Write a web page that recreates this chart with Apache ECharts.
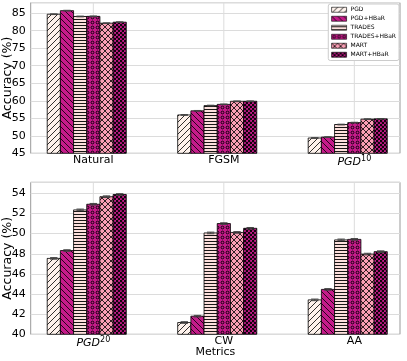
<!DOCTYPE html>
<html><head><meta charset="utf-8">
<script src="https://cdn.jsdelivr.net/npm/echarts@6/dist/echarts.min.js"></script>
<style>html,body{margin:0;padding:0;background:#fff}#c{width:407px;height:361px}</style>
</head><body><div id="c"></div>
<script>
// ---- data ----
const methods = ['PGD', 'PGD+HBaR', 'TRADES', 'TRADES+HBaR', 'MART', 'MART+HBaR'];
const topCategories = ['Natural', 'FGSM', 'PGD10'];
const bottomCategories = ['PGD20', 'CW', 'AA'];

const pgdTop        = [84.71, 55.95, 49.37];
const pgdHbarTop    = [85.73, 57.13, 49.63];
const tradesTop     = [84.07, 58.63, 53.21];
const tradesHbarTop = [84.10, 58.97, 53.76];
const martTop       = [82.15, 59.85, 54.75];
const martHbarTop   = [82.44, 59.86, 54.84];

const pgdBottom        = [47.54, 41.17, 43.42];
const pgdHbarBottom    = [48.32, 41.80, 44.46];
const tradesBottom     = [52.36, 50.07, 49.38];
const tradesHbarBottom = [52.92, 51.00, 49.43];
const martBottom       = [53.67, 50.12, 47.97];
const martHbarBottom   = [53.89, 50.53, 48.21];

const errTop    = [0.10, 0.10, 0.10];
const errBottom = [0.08, 0.08, 0.08];

const topTicks = [45, 50, 55, 60, 65, 70, 75, 80, 85];
const bottomTicks = [40, 42, 44, 46, 48, 50, 52, 54];

const topSeries = [pgdTop, pgdHbarTop, tradesTop, tradesHbarTop, martTop, martHbarTop];
const bottomSeries = [pgdBottom, pgdHbarBottom, tradesBottom, tradesHbarBottom, martBottom, martHbarBottom];

// ---- patterns ----
function makePattern(kind, bg) {
  const cv = document.createElement('canvas');
  let s = 6;
  if (kind === 'h') s = 3;
  if (kind === 'o') s = 5;
  if (kind === 'star') s = 4;
  cv.width = s; cv.height = s;
  const c = cv.getContext('2d');
  c.fillStyle = bg; c.fillRect(0, 0, s, s);
  c.strokeStyle = 'rgba(0,0,0,0.9)'; c.fillStyle = 'rgba(0,0,0,0.9)';
  c.lineWidth = 0.9;
  function diag(fw) {
    c.beginPath();
    for (let k = -1; k <= 1; k++) {
      if (fw) { c.moveTo(k * s, s); c.lineTo(k * s + s, 0); }
      else { c.moveTo(k * s, 0); c.lineTo(k * s + s, s); }
    }
    c.stroke();
  }
  if (kind === '/') diag(true);
  if (kind === '\\') diag(false);
  if (kind === 'x') { diag(true); diag(false); }
  if (kind === 'h') { c.fillRect(0, 1, s, 1); }
  if (kind === 'o') {
    c.lineWidth = 1;
    c.beginPath(); c.arc(2.5, 2.5, 1.4, 0, Math.PI * 2); c.stroke();
  }
  if (kind === 'star') {
    c.beginPath(); c.arc(1, 1, 1.3, 0, Math.PI * 2); c.fill();
    c.beginPath(); c.arc(3, 3, 1.3, 0, Math.PI * 2); c.fill();
  }
  return { image: cv, repeat: 'repeat' };
}
const patterns = [
  makePattern('/', '#fef2ec'),
  makePattern('\\', '#c51b8a'),
  makePattern('h', '#fde0dd'),
  makePattern('o', '#c51b8a'),
  makePattern('x', '#fa9fb5'),
  makePattern('star', '#c51b8a')
];

const BW = 0.101;
function barRender(j) {
  return function (params, api) {
    const ci = api.value(0), v = api.value(1), e = api.value(2);
    const cs = params.coordSys;
    const bottom = cs.y + cs.height;
    const x = ci + (j - 3) * BW;
    const pL = api.coord([x - BW / 2, v]);
    const pR = api.coord([x + BW / 2, v]);
    const pc = api.coord([x, v]);
    const up = api.coord([x, v + e]);
    const dn = api.coord([x, v - e]);
    const capW = (pR[0] - pL[0]) * 0.28;
    return {
      type: 'group',
      children: [
        { type: 'rect', shape: { x: pL[0], y: pL[1], width: pR[0] - pL[0], height: bottom - pL[1] },
          style: { fill: patterns[j], stroke: '#000', lineWidth: 0.8 } },
        { type: 'line', shape: { x1: pc[0], y1: up[1], x2: pc[0], y2: dn[1] }, style: { stroke: '#444', lineWidth: 1 } },
        { type: 'line', shape: { x1: pc[0] - capW, y1: up[1], x2: pc[0] + capW, y2: up[1] }, style: { stroke: '#444', lineWidth: 1 } },
        { type: 'line', shape: { x1: pc[0] - capW, y1: dn[1], x2: pc[0] + capW, y2: dn[1] }, style: { stroke: '#444', lineWidth: 1 } }
      ]
    };
  };
}
function gridLineRender(params, api) {
  const cs = params.coordSys;
  const p = api.coord([api.value(0), api.value(1)]);
  return { type: 'line', shape: { x1: p[0], y1: cs.y, x2: p[0], y2: cs.y + cs.height }, style: { stroke: '#dcdcdc', lineWidth: 1 } };
}

const FONT = 'DejaVu Sans';
function catLabel(cats) {
  return function (v) {
    const name = cats[Math.round(v)];
    const m = name.match(/^PGD(\d+)$/);
    if (m) return '{i|PGD}{s|' + m[1] + '}';
    return name;
  };
}
const richLab = {
  i: { fontStyle: 'italic', fontSize: 11, fontFamily: FONT, color: '#000' },
  s: { fontSize: 8, fontFamily: FONT, color: '#000', padding: [0, 0, 7, 0] }
};

function xAxisCfg(gi, cats, withName) {
  return {
    type: 'value', gridIndex: gi, min: -0.48, max: 2.35,
    splitLine: { show: false }, axisTick: { show: false }, axisLine: { show: false },
    axisLabel: { customValues: cats.map((c, i) => i), formatter: catLabel(cats), rich: richLab,
      fontSize: 11, fontFamily: FONT, color: '#000', margin: 1.5 },
    name: withName ? 'Metrics' : '', nameLocation: 'middle', nameGap: 12, nameMoveOverlap: false,
    nameTextStyle: { fontSize: 11, fontFamily: FONT, color: '#000' }
  };
}
function yAxisCfg(gi, ticks, max) {
  return {
    type: 'value', gridIndex: gi, min: ticks[0], max: max, interval: ticks[1] - ticks[0],
    axisLine: { show: false }, axisTick: { show: false },
    splitLine: { lineStyle: { color: '#dcdcdc', width: 1 } },
    axisLabel: { showMaxLabel: false, fontSize: 11, fontFamily: FONT, color: '#000', margin: 5 },
    name: 'Accuracy (%)', nameLocation: 'middle', nameGap: 16, nameMoveOverlap: false,
    nameTextStyle: { fontSize: 12.5, fontFamily: FONT, color: '#000' }
  };
}

const series = [];
[[topCategories, 0, topTicks[0]], [bottomCategories, 1, bottomTicks[0]]].forEach(([cats, gi, ymin]) => {
  series.push({ type: 'custom', xAxisIndex: gi, yAxisIndex: gi, silent: true, z: 1,
    data: cats.map((c, i) => [i, ymin]), renderItem: gridLineRender });
});
methods.forEach((m, j) => {
  series.push({ name: m, type: 'custom', xAxisIndex: 0, yAxisIndex: 0, z: 3,
    itemStyle: { color: patterns[j], borderColor: '#000', borderWidth: 0.8 },
    data: topSeries[j].map((v, i) => [i, v, errTop[i]]), renderItem: barRender(j) });
  series.push({ name: m, type: 'custom', xAxisIndex: 1, yAxisIndex: 1, z: 3,
    itemStyle: { color: patterns[j], borderColor: '#000', borderWidth: 0.8 },
    data: bottomSeries[j].map((v, i) => [i, v, errBottom[i]]), renderItem: barRender(j) });
});

const chart = echarts.init(document.getElementById('c'), null, { renderer: 'canvas' });
chart.setOption({
  animation: false,
  backgroundColor: '#fff',
  grid: [
    { left: 30.7, top: 2.7, width: 369.3, height: 150.6, show: true, borderColor: '#999', borderWidth: 1, containLabel: false, outerBoundsMode: 'none' },
    { left: 30.7, top: 182.3, width: 369.3, height: 152, show: true, borderColor: '#999', borderWidth: 1, containLabel: false, outerBoundsMode: 'none' }
  ],
  xAxis: [xAxisCfg(0, topCategories, false), xAxisCfg(1, bottomCategories, true)],
  yAxis: [yAxisCfg(0, topTicks, 88), yAxisCfg(1, bottomTicks, 55.1)],
  legend: {
    data: methods, orient: 'vertical', right: 8, top: 4,
    icon: 'rect', itemWidth: 15, itemHeight: 5, itemGap: 1.5,
    padding: [2, 3, 2, 3], backgroundColor: '#fff', borderColor: '#ccc', borderWidth: 1, borderRadius: 2,
    itemStyle: { borderColor: '#000', borderWidth: 0.6 },
    textStyle: { fontSize: 6, fontFamily: FONT, color: '#000', lineHeight: 7.5, padding: [0, 0, 0, -1] }
  },
  series: series
});
</script></body></html>
